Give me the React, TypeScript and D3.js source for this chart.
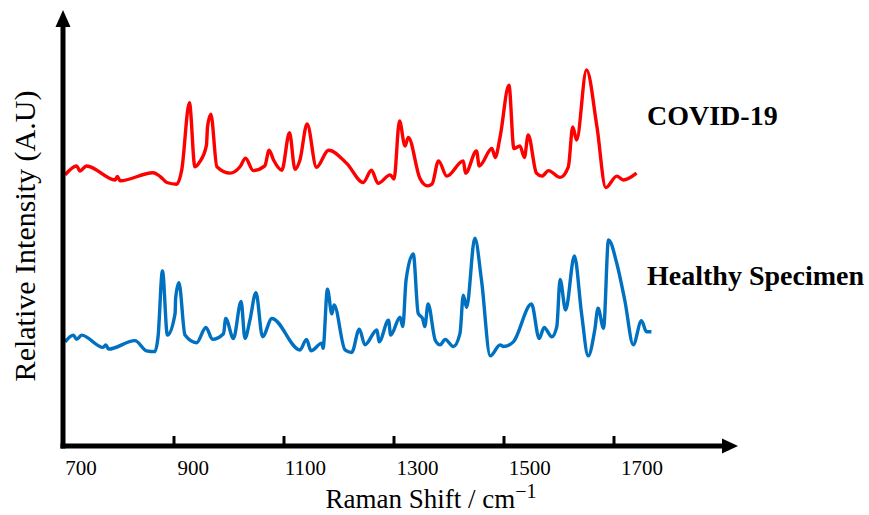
import React from "react";
import { scaleLinear, line, curveMonotoneX } from "d3";

// Raman shift (cm-1) and displayed intensity (a.u., offset included)
const covidShift = [
  702, 723, 729, 741, 793, 797, 802, 862, 875, 887, 905, 914, 928, 938, 947,
  959, 961, 967, 978, 1002, 1020, 1030, 1044, 1065, 1073, 1081, 1096, 1110,
  1120, 1129, 1142, 1159, 1181, 1214, 1244, 1259, 1271, 1293, 1300, 1310,
  1320, 1326, 1347, 1361, 1369, 1381, 1396, 1426, 1430, 1450, 1455, 1478,
  1484, 1493, 1509, 1518, 1529, 1537, 1544, 1559, 1569, 1581, 1602, 1617,
  1625, 1632, 1650, 1669, 1685, 1705, 1717, 1741
];
const covidIntensity = [
  63.8, 65.9, 64.7, 65.9, 62.6, 63.4, 62.4, 64.3, 63.4, 62.0, 61.6, 64.9,
  80.8, 65.7, 66.9, 70.8, 75.1, 78.1, 65.7, 64.2, 65.7, 67.7, 64.8, 65.9,
  69.6, 67.3, 64.9, 73.7, 65.1, 67.3, 75.8, 65.6, 69.6, 66.5, 62.0, 64.9,
  61.8, 63.8, 62.8, 76.5, 70.6, 72.6, 63.0, 61.2, 61.6, 67.1, 63.5, 67.1,
  64.2, 69.4, 65.9, 70.0, 67.9, 72.8, 84.9, 70.0, 70.6, 67.9, 73.2, 64.2,
  63.5, 64.8, 63.2, 65.7, 75.1, 72.0, 88.5, 75.1, 60.8, 63.5, 62.6, 64.2
];

const healthyShift = [
  702, 717, 723, 732, 771, 776, 781, 829, 850, 865, 871, 879, 888, 902, 903,
  909, 920, 941, 958, 970, 990, 994, 1008, 1022, 1029, 1038, 1049, 1061,
  1078, 1129, 1141, 1149, 1169, 1171, 1179, 1187, 1191, 1211, 1223, 1237,
  1247, 1269, 1273, 1290, 1294, 1311, 1316, 1322, 1335, 1344, 1352, 1356,
  1362, 1375, 1384, 1393, 1408, 1420, 1426, 1432, 1447, 1459, 1475, 1493,
  1499, 1517, 1550, 1564, 1573, 1587, 1596, 1602, 1612, 1628, 1641, 1653,
  1665, 1671, 1681, 1690, 1705, 1720, 1735, 1750, 1759, 1768
];
const healthyIntensity = [
  24.5, 26.1, 25.1, 26.1, 23.2, 23.8, 22.8, 24.8, 22.4, 22.2, 25.7, 41.2,
  26.1, 31.2, 34.8, 38.4, 26.1, 24.3, 27.9, 25.1, 26.4, 30.0, 25.3, 34.0,
  25.3, 29.6, 36.1, 25.7, 30.0, 22.6, 25.1, 22.4, 24.2, 23.0, 36.9, 31.1,
  33.2, 22.6, 22.0, 27.5, 23.8, 27.3, 24.5, 29.6, 26.1, 30.3, 28.1, 39.1,
  45.2, 31.2, 30.0, 28.1, 33.4, 24.9, 23.8, 25.1, 23.4, 26.5, 35.5, 32.6,
  48.9, 39.1, 21.2, 23.8, 23.4, 24.5, 33.4, 25.3, 27.9, 25.7, 28.1, 39.2,
  32.0, 44.7, 31.2, 21.2, 27.3, 32.4, 27.7, 48.5, 43.0, 34.0, 23.8, 29.5,
  26.9, 26.9
];

const tickValues = [700, 900, 1100, 1300, 1500, 1700];
const seriesNames = ["COVID-19", "Healthy Specimen"];
const seriesColors = ["#FF0000", "#0070C0"];

const W = 869;
const H = 515;
const axisX = 63;
const axisY = 446;

const App = () => {
  const x = scaleLinear().domain([700, 1700]).range([64, 614]);
  // the tick labels sit a little right of their tick marks in the original
  const labelX = scaleLinear().domain([700, 1700]).range([81, 642]);
  const y = scaleLinear().domain([0, 100]).range([axisY, 21]);

  const path = line<[number, number]>()
    .x(d => x(d[0]))
    .y(d => y(d[1]))
    .curve(curveMonotoneX);

  const covid = covidShift.map((s, i) => [s, covidIntensity[i]] as [number, number]);
  const healthy = healthyShift.map((s, i) => [s, healthyIntensity[i]] as [number, number]);

  const font = "'Liberation Serif', 'Times New Roman', serif";

  return (
    <svg
      width={W}
      height={H}
      viewBox={`0 0 ${W} ${H}`}
      style={{ position: "absolute", left: 0, top: 0, background: "#fff" }}
      fontFamily={font}
    >
      {/* spectra */}
      <path d={path(covid) || ""} fill="none" stroke={seriesColors[0]} strokeWidth={3.4} strokeLinejoin="round" />
      <path d={path(healthy) || ""} fill="none" stroke={seriesColors[1]} strokeWidth={3.4} strokeLinejoin="round" />

      {/* axes */}
      <line x1={axisX} y1={axisY + 2.5} x2={axisX} y2={24} stroke="#000" strokeWidth={5} />
      <polygon points={`${axisX},10 ${axisX - 7.5},27 ${axisX + 7.5},27`} fill="#000" />
      <line x1={axisX - 2.5} y1={axisY} x2={724} y2={axisY} stroke="#000" strokeWidth={5} />
      <polygon points={`738,${axisY} 722,${axisY - 7.5} 722,${axisY + 7.5}`} fill="#000" />

      {tickValues.slice(1).map(t => (
        <line key={t} x1={x(t)} x2={x(t)} y1={axisY} y2={436} stroke="#000" strokeWidth={3} />
      ))}
      {tickValues.map(t => (
        <text key={t} x={labelX(t)} y={475} textAnchor="middle" fontSize={21} fill="#000">
          {t}
        </text>
      ))}

      <text x={431} y={508} textAnchor="middle" fontSize={27} fill="#000">
        Raman Shift / cm
        <tspan dy={-10} fontSize={20}>−1</tspan>
      </text>
      <text
        transform="translate(35,236) rotate(-90)"
        textAnchor="middle"
        fontSize={30}
        fill="#000"
      >
        Relative Intensity (A.U)
      </text>

      <text x={647} y={125} fontSize={28} fontWeight="bold" fill="#000">{seriesNames[0]}</text>
      <text x={647} y={285} fontSize={28} fontWeight="bold" fill="#000">{seriesNames[1]}</text>
    </svg>
  );
};

export default App;
